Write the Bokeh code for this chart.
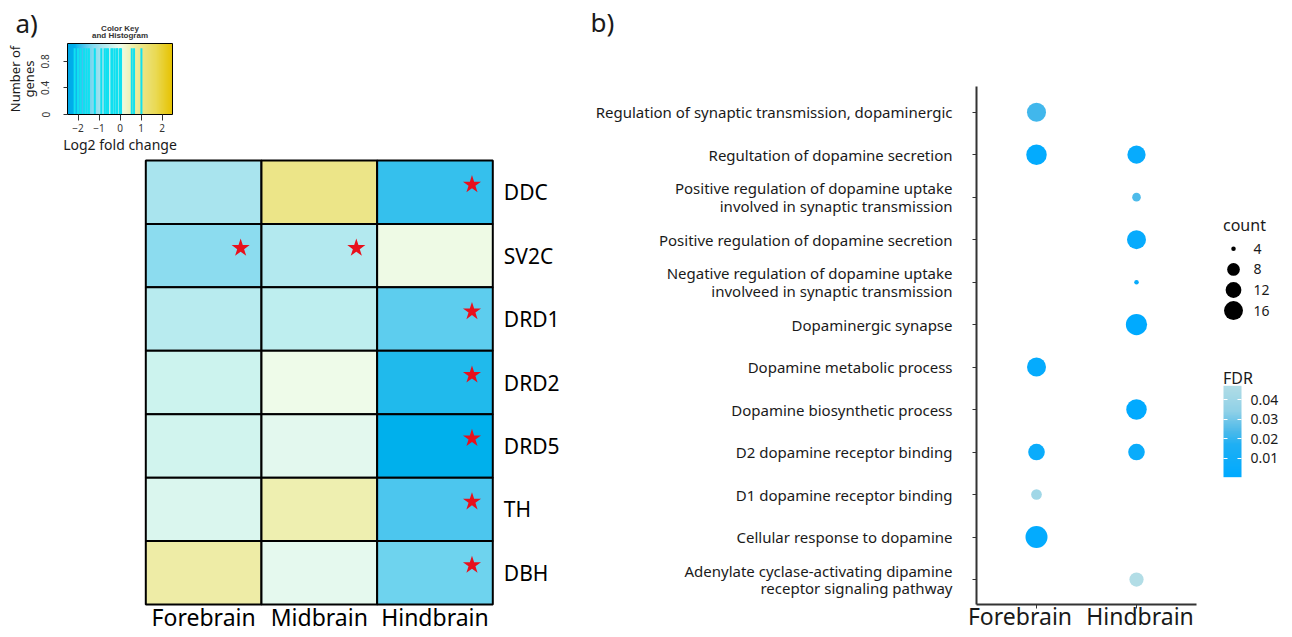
import numpy as np
from bokeh.plotting import figure
from bokeh.models import (ColumnDataSource, LinearColorMapper, Range1d, FixedTicker,
                          Label, LinearAxis)
from bokeh.transform import transform
from bokeh.core.properties import value
from bokeh.embed import file_html
from bokeh.resources import INLINE

FONT = "Noto Sans"
TXT = "#1a1a1a"

# ---------------- data: panel a (heatmap of log2 fold change) ----------------
regions = ["Forebrain", "Midbrain", "Hindbrain"]
genes = ["DDC", "SV2C", "DRD1", "DRD2", "DRD5", "TH", "DBH"]
log2fc_forebrain = [-0.89, -1.20, -0.65, -0.41, -0.35, -0.25, 0.67]
log2fc_midbrain = [1.02, -0.73, -0.57, 0.00, -0.15, 0.56, -0.12]
log2fc_hindbrain = [-1.87, 0.05, -1.59, -2.00, -2.16, -1.71, -1.48]
sig_genes = ["DDC", "SV2C", "SV2C", "DRD1", "DRD2", "DRD5", "TH", "DBH"]
sig_regions = ["Hindbrain", "Forebrain", "Midbrain", "Hindbrain", "Hindbrain",
               "Hindbrain", "Hindbrain", "Hindbrain"]
key_x_ticks = [-2, -1, 0, 1, 2]
key_y_ticks = [0, 0.4, 0.8]

# ---------------- data: panel b (enrichment dot plot) ----------------
terms = [
    "Regulation of synaptic transmission, dopaminergic",
    "Regultation of dopamine secretion",
    "Positive regulation of dopamine uptake\ninvolved in synaptic transmission",
    "Positive regulation of dopamine secretion",
    "Negative regulation of dopamine uptake\ninvolveed in synaptic transmission",
    "Dopaminergic synapse",
    "Dopamine metabolic process",
    "Dopamine biosynthetic process",
    "D2 dopamine receptor binding",
    "D1 dopamine receptor binding",
    "Cellular response to dopamine",
    "Adenylate cyclase-activating dipamine\nreceptor signaling pathway",
]
dot_regions = ["Forebrain", "Hindbrain"]
dot_term_idx = [0, 1, 1, 2, 3, 4, 5, 6, 7, 8, 8, 9, 10, 11]
dot_region = ["Forebrain", "Forebrain", "Hindbrain", "Hindbrain", "Hindbrain", "Hindbrain",
              "Hindbrain", "Forebrain", "Hindbrain", "Forebrain", "Hindbrain", "Forebrain",
              "Forebrain", "Hindbrain"]
dot_count = [16, 18, 15, 6, 16, 4, 19, 16, 18, 13, 13, 7, 20, 10]
dot_fdr = [0.022, 0.002, 0.004, 0.024, 0.004, 0.005, 0.0003, 0.003, 0.001, 0.006, 0.006,
           0.040, 0.002, 0.047]
legend_counts = [4, 8, 12, 16]
fdr_ticks = [0.01, 0.02, 0.03, 0.04]


# ---------------- styling helpers ----------------
def ramp(anchors, n=256):
    xs = [a[0] for a in anchors]
    rgb = [[int(a[1][i:i + 2], 16) for i in (1, 3, 5)] for a in anchors]
    out = []
    for v in np.linspace(xs[0], xs[-1], n):
        c = [int(round(np.interp(v, xs, [q[k] for q in rgb]))) for k in range(3)]
        out.append("#%02x%02x%02x" % tuple(c))
    return out


heat_palette = ramp([(-2.5, "#00a8e8"), (-2.16, "#00b0ec"), (-2.0, "#22bbec"),
                     (-1.7, "#4ec7ee"), (-1.45, "#72d5ee"), (-1.2, "#8ddcef"),
                     (-0.9, "#a8e4ee"), (-0.6, "#bcedef"), (-0.35, "#d0f4ee"),
                     (-0.12, "#e6f9ee"), (0.0, "#eefbea"), (0.3, "#f0f6cc"),
                     (0.6, "#eeeeac"), (1.0, "#ece68a"), (1.7, "#eada55"),
                     (2.5, "#e6c200")])
heat_mapper = LinearColorMapper(palette=heat_palette, low=-2.5, high=2.5)

fdr_lo, fdr_hi = min(dot_fdr), max(dot_fdr)
fdr_palette = ramp([(0.0, "#00aaff"), (0.35, "#1eaff4"), (0.5, "#4cbaea"),
                    (0.72, "#90d1e7"), (1.0, "#b2dde6")])
fdr_mapper = LinearColorMapper(palette=fdr_palette, low=fdr_lo, high=fdr_hi)

SIZE_COUNTS = [4, 8, 12, 16, 20]
SIZE_PX = [4.5, 12.7, 15.8, 19.0, 22.0]


def dot_px(c):
    return float(np.interp(c, SIZE_COUNTS, SIZE_PX))


# ---------------- one canvas; each panel gets its own scales ----------------
X0, X1 = 0, 1290     # canvas edges in page pixels
Y0, Y1 = 0, 636


def xmap(a, pa, b, pb):
    k = (pb - pa) / (b - a)
    return Range1d(a - (pa - X0) / k, a + (X1 - pa) / k)


def ymap(a, pa, b, pb):
    k = (pa - pb) / (b - a)
    return Range1d(a - (Y1 - pa) / k, a + (pa - Y0) / k)


p = figure(width=X1 - X0, height=Y1 - Y0, x_range=Range1d(X0, X1), y_range=Range1d(Y1, Y0),
           x_axis_location=None, y_axis_location=None, output_backend="svg",
           toolbar_location=None, min_border=0)
p.min_border_left = p.min_border_right = p.min_border_top = p.min_border_bottom = 0
p.outline_line_color = None
p.background_fill_color = "white"
p.border_fill_color = "white"
p.xgrid.visible = False
p.ygrid.visible = False

p.extra_x_ranges = {
    "kx": xmap(-2.5, 67, 2.5, 172),        # colour key
    "hx": xmap(0, 145.3, 3, 492.3),        # heatmap columns
    "dx": xmap(0, 1036, 1, 1136),          # dot plot columns
}
p.extra_y_ranges = {
    "ky": ymap(0, 114, 1.07, 43),
    "hy": ymap(0, 604, 7, 160),
    "dy": ymap(0, 579, 11, 111.7),
    "fy": ymap(0.01, 457.7, 0.04, 399),
}


def style_axis(ax, size):
    ax.major_label_text_font = FONT
    ax.major_label_text_font_size = size
    ax.major_label_text_color = TXT
    ax.minor_tick_line_color = None
    ax.axis_label_text_font = FONT
    ax.axis_label_text_font_style = "normal"
    ax.axis_label_text_color = TXT


# ---------------- colour key ----------------
KX = (-2.5, 2.5)
KY = (0, 1.07)
p.image(image=[np.linspace(KX[0], KX[1], 256).reshape(1, 256)], x=KX[0], y=KY[0],
        dw=KX[1] - KX[0], dh=KY[1] - KY[0], color_mapper=heat_mapper,
        x_range_name="kx", y_range_name="ky")
all_vals = log2fc_forebrain + log2fc_midbrain + log2fc_hindbrain
p.segment(x0=all_vals, y0=[0] * len(all_vals), x1=all_vals, y1=[1] * len(all_vals),
          line_color="#10e0f0", line_width=2, x_range_name="kx", y_range_name="ky")
p.quad(left=[KX[0]], right=[KX[1]], bottom=[KY[0]], top=[KY[1]], fill_color=None,
       line_color="black", line_width=1, x_range_name="kx", y_range_name="ky")

kxa = LinearAxis(x_range_name="kx", y_range_name="ky", fixed_location=KY[0], bounds=KX,
                 ticker=FixedTicker(ticks=key_x_ticks), axis_label="Log2 fold change")
style_axis(kxa, "10px")
kxa.axis_line_color = None
kxa.major_tick_in = 0
kxa.major_tick_out = 6
kxa.major_tick_line_color = "#333333"
kxa.major_label_standoff = 3
kxa.major_label_text_color = "#333333"
kxa.axis_label_text_font_size = "14px"
kxa.axis_label_standoff = 0
p.add_layout(kxa, "below")

kya = LinearAxis(x_range_name="kx", y_range_name="ky", fixed_location=KX[0], bounds=KY,
                 ticker=FixedTicker(ticks=key_y_ticks), axis_label="Number of\ngenes")
style_axis(kya, "10px")
kya.major_label_overrides = {0: "0", 0.4: "0.4", 0.8: "0.8"}
kya.major_label_orientation = "vertical"
kya.axis_line_color = None
kya.major_tick_in = 0
kya.major_tick_out = 4
kya.major_tick_line_color = "#333333"
kya.major_label_standoff = 14
kya.major_label_text_color = "#333333"
kya.axis_label_text_font_size = "13px"
kya.axis_label_text_line_height = 0.75
kya.axis_label_standoff = 1
p.add_layout(kya, "left")

for txt, yy in (("Color Key", 27.5), ("and Histogram", 34.5)):
    p.add_layout(Label(x=119.5, y=yy, text=txt, text_align="center", text_baseline="middle",
                       text_font="Liberation Sans", text_font_size="8px",
                       text_font_style="bold", text_color="#333333"))

# ---------------- heatmap ----------------
h_x = [regions.index(r) + 0.5 for r in regions for _ in genes]
h_y = [len(genes) - 0.5 - i for _ in regions for i in range(len(genes))]
heat_src = ColumnDataSource(dict(x=h_x, y=h_y,
                                 val=log2fc_forebrain + log2fc_midbrain + log2fc_hindbrain))
p.rect(x="x", y="y", width=1, height=1, source=heat_src,
       fill_color=transform("val", heat_mapper), line_color="black", line_width=2,
       x_range_name="hx", y_range_name="hy")
star_x = [regions.index(r) + 0.82 for r in sig_regions]
star_y = [len(genes) - 0.5 - genes.index(g) + 0.12 for g in sig_genes]
p.scatter(x=star_x, y=star_y, marker="star", size=19, fill_color="#e8101c", line_color=None,
          x_range_name="hx", y_range_name="hy")

hxa = LinearAxis(x_range_name="hx", y_range_name="hy", fixed_location=0,
                 bounds=(0, len(regions)),
                 ticker=FixedTicker(ticks=[i + 0.5 for i in range(len(regions))]))
hxa.major_label_overrides = {i + 0.5: r for i, r in enumerate(regions)}
style_axis(hxa, "23px")
hxa.major_label_text_color = "black"
hxa.axis_line_color = None
hxa.major_tick_line_color = None
hxa.major_tick_out = 0
hxa.major_label_standoff = -4
p.add_layout(hxa, "below")

hya = LinearAxis(x_range_name="hx", y_range_name="hy", fixed_location=len(regions),
                 bounds=(0, len(genes)),
                 ticker=FixedTicker(ticks=[len(genes) - 0.5 - i for i in range(len(genes))]))
hya.major_label_overrides = {len(genes) - 0.5 - i: g for i, g in enumerate(genes)}
style_axis(hya, "21px")
hya.major_label_text_color = "black"
hya.axis_line_color = None
hya.major_tick_line_color = None
hya.major_label_standoff = 5
p.add_layout(hya, "right")

p.add_layout(Label(x=15, y=22, text="a)", text_font=FONT, text_font_size="26px",
                   text_color=TXT, text_baseline="middle"))

# ---------------- dot plot ----------------
n_t = len(terms)
dot_src = ColumnDataSource(dict(
    x=[dot_regions.index(r) for r in dot_region],
    y=[n_t - 1 - i for i in dot_term_idx],
    count=dot_count,
    fdr=dot_fdr,
    size=[dot_px(c) for c in dot_count],
))
p.scatter(x="x", y="y", size="size", source=dot_src, fill_color=transform("fdr", fdr_mapper),
          line_color=None, x_range_name="dx", y_range_name="dy")

DX = (-0.6, len(dot_regions) - 1 + 0.6)
DY = (-0.6, n_t - 1 + 0.6)
dya = LinearAxis(x_range_name="dx", y_range_name="dy", fixed_location=DX[0], bounds=DY,
                 ticker=FixedTicker(ticks=list(range(n_t))))
dya.major_label_overrides = {n_t - 1 - i: t for i, t in enumerate(terms)}
style_axis(dya, "15px")
dya.major_label_text_line_height = 0.88
dxa = LinearAxis(x_range_name="dx", y_range_name="dy", fixed_location=DY[0], bounds=DX,
                 ticker=FixedTicker(ticks=list(range(len(dot_regions)))))
style_axis(dxa, "1px")
dxa.major_label_text_alpha = 0
for ax in (dya, dxa):
    ax.axis_line_color = "#333333"
    ax.axis_line_width = 2
    ax.major_tick_line_color = "#333333"
    ax.major_tick_in = 0
    ax.major_tick_out = 4
dya.major_label_standoff = 20
p.add_layout(dya, "left")
p.add_layout(dxa, "below")

# region names under the dot plot sit slightly off their ticks, as in the original figure
DOT_LABEL_SHIFT = [-0.165, 0.035]
lab_ticks = [i + s for i, s in enumerate(DOT_LABEL_SHIFT)]
dxl = LinearAxis(x_range_name="dx", y_range_name="dy", fixed_location=DY[0], bounds=DX,
                 ticker=FixedTicker(ticks=lab_ticks))
dxl.major_label_overrides = {t: r for t, r in zip(lab_ticks, dot_regions)}
style_axis(dxl, "23px")
dxl.axis_line_color = None
dxl.major_tick_line_color = None
dxl.major_tick_out = 0
dxl.major_label_standoff = -5
p.add_layout(dxl, "below")

p.add_layout(Label(x=590, y=21.5, text="b)", text_font=FONT, text_font_size="26px",
                   text_color=TXT, text_baseline="middle"))

# ---------------- count legend ----------------
LEG_X, LEG_Y, LEG_STEP = 1233, 248.3, 20.6
leg_y = [LEG_Y + i * LEG_STEP for i in range(len(legend_counts))]
p.add_layout(Label(x=1222.5, y=224, text="count", text_font=FONT, text_font_size="16px",
                   text_color=TXT, text_baseline="middle"))
p.scatter(x=[LEG_X] * len(legend_counts), y=leg_y, size=[dot_px(c) for c in legend_counts],
          fill_color="black", line_color=None)
p.text(x=[LEG_X + 20] * len(legend_counts), y=leg_y, text=[str(c) for c in legend_counts],
       text_font=value(FONT), text_font_size="14px", text_color=TXT, text_baseline="middle")

# ---------------- FDR legend ----------------
BAR_L, BAR_W = 1223, 18
p.image(image=[np.linspace(fdr_lo, fdr_hi, 120).reshape(120, 1)], x=BAR_L, y=fdr_lo, dw=BAR_W,
        dh=fdr_hi - fdr_lo, color_mapper=fdr_mapper, y_range_name="fy")
fra = LinearAxis(y_range_name="fy", fixed_location=BAR_L + BAR_W, bounds=(fdr_lo, fdr_hi),
                 ticker=FixedTicker(ticks=fdr_ticks))
fra.major_label_overrides = {t: "%.2f" % t for t in fdr_ticks}
style_axis(fra, "14px")
fra.axis_line_color = None
fra.major_tick_line_color = "white"
fra.major_tick_in = 4
fra.major_tick_out = 0
fra.major_label_standoff = 9
p.add_layout(fra, "right")
fla = LinearAxis(y_range_name="fy", fixed_location=BAR_L, bounds=(fdr_lo, fdr_hi),
                 ticker=FixedTicker(ticks=fdr_ticks))
fla.axis_line_color = None
fla.major_tick_line_color = "white"
fla.major_tick_in = 4
fla.major_tick_out = 0
fla.minor_tick_line_color = None
fla.major_label_text_alpha = 0
fla.major_label_text_font_size = "1px"
p.add_layout(fla, "left")
p.add_layout(Label(x=1222.5, y=377.5, text="FDR", text_font=FONT, text_font_size="16px",
                   text_color=TXT, text_baseline="middle"))

open("out.html", "w").write(file_html(p, INLINE))
